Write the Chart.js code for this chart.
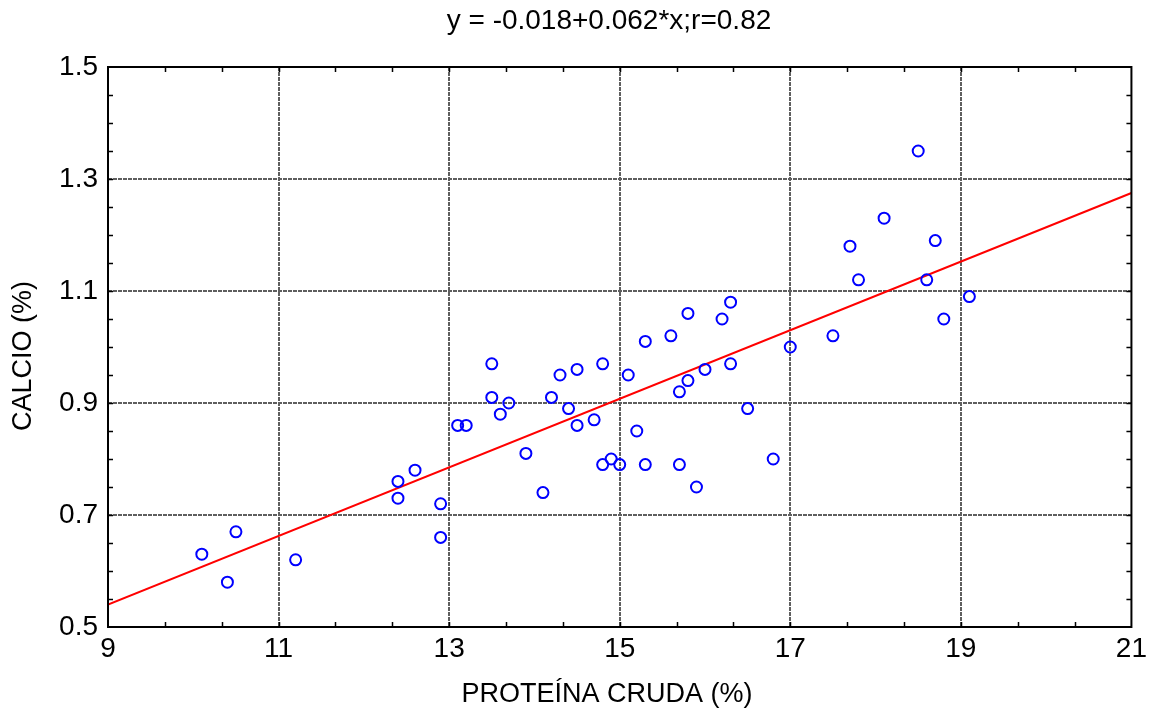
<!DOCTYPE html>
<html>
<head>
<meta charset="utf-8">
<script src="https://cdn.jsdelivr.net/npm/chart.js@4/dist/chart.umd.min.js"></script>
<style>
  html, body { margin: 0; padding: 0; background: #fff; }
</style>
</head>
<body>
<canvas id="chart" width="1152" height="715"></canvas>
<script>
// PROTEÍNA CRUDA (%) vs CALCIO (%)
const proteina = [10.1, 10.4, 10.5, 11.2, 12.4, 12.4, 12.6, 12.9, 12.9,
    13.1, 13.2, 13.5, 13.5, 13.6, 13.7, 13.9, 14.1,
    14.2, 14.3, 14.4, 14.5, 14.5, 14.7, 14.8, 14.8, 14.9, 15.0,
    15.1, 15.2, 15.3, 15.3, 15.6, 15.7, 15.7, 15.8, 15.8, 15.9,
    16.0, 16.2, 16.3, 16.3, 16.5, 16.8, 17.0,
    17.5, 17.7, 17.8, 18.1, 18.5, 18.6, 18.7, 18.8, 19.1];
const calcio = [0.63, 0.58, 0.67, 0.62, 0.76, 0.73, 0.78, 0.72, 0.66,
    0.86, 0.86, 0.97, 0.91, 0.88, 0.90, 0.81, 0.74,
    0.91, 0.95, 0.89, 0.96, 0.86, 0.87, 0.97, 0.79, 0.80, 0.79,
    0.95, 0.85, 1.01, 0.79, 1.02, 0.92, 0.79, 1.06, 0.94, 0.75,
    0.96, 1.05, 1.08, 0.97, 0.89, 0.80, 1.00,
    1.02, 1.18, 1.12, 1.23, 1.35, 1.12, 1.19, 1.05, 1.09];

// regression line ends
const fitX = [9, 21];
const fitY = [0.54, 1.275];

const xTicks = [9, 11, 13, 15, 17, 19, 21];
const yTicks = [0.5, 0.7, 0.9, 1.1, 1.3, 1.5];
const xMinorStep = 2 / 3;
const yMinorStep = 0.05;

const titleText = 'y = -0.018+0.062*x;r=0.82';
const xTitle = 'PROTEÍNA CRUDA (%)';
const yTitle = 'CALCIO (%)';

const FONT = 'Liberation Sans, Arial, sans-serif';

// frame round the plot + small inner ticks on all four sides
const frameTicks = {
    id: 'frameTicks',
    afterDatasetsDraw(chart) {
        const ctx = chart.ctx;
        const a = chart.chartArea;
        const xs = chart.scales.x;
        const ys = chart.scales.y;
        ctx.save();
        ctx.strokeStyle = '#000';
        ctx.lineWidth = 1.5;
        ctx.beginPath();
        const nx = Math.round((xs.max - xs.min) / xMinorStep);
        for (let i = 1; i < nx; i++) {
            const px = Math.round(xs.getPixelForValue(xs.min + i * xMinorStep)) + 0.5;
            ctx.moveTo(px, a.bottom); ctx.lineTo(px, a.bottom - 5);
            ctx.moveTo(px, a.top); ctx.lineTo(px, a.top + 5);
        }
        const ny = Math.round((ys.max - ys.min) / yMinorStep);
        for (let i = 1; i < ny; i++) {
            const py = Math.round(ys.getPixelForValue(ys.min + i * yMinorStep)) + 0.5;
            ctx.moveTo(a.left, py); ctx.lineTo(a.left + 5, py);
            ctx.moveTo(a.right, py); ctx.lineTo(a.right - 5, py);
        }
        ctx.stroke();
        ctx.lineWidth = 2;
        ctx.strokeRect(a.left, a.top, a.right - a.left, a.bottom - a.top);
        ctx.restore();
    }
};

// title and axis titles, placed as in the original
const labels = {
    id: 'labels',
    afterDraw(chart) {
        const ctx = chart.ctx;
        ctx.save();
        ctx.fillStyle = '#000';
        ctx.textAlign = 'center';
        ctx.textBaseline = 'middle';
        ctx.font = '28px ' + FONT;
        ctx.fillText(titleText, 609, 21);
        ctx.font = '27px ' + FONT;
        ctx.fillText(xTitle, 607, 695);
        ctx.translate(24, 356);
        ctx.rotate(-Math.PI / 2);
        ctx.fillText(yTitle, 0, 0);
        ctx.restore();
    }
};

function gridColor(c) {
    const s = c.scale;
    if (c.tick && (c.tick.value === s.min || c.tick.value === s.max)) return 'transparent';
    return '#5e5e5e';
}

new Chart(document.getElementById('chart'), {
    type: 'scatter',
    data: {
        datasets: [{
            label: 'datos',
            data: proteina.map((v, i) => ({ x: v, y: calcio[i] })),
            pointStyle: 'circle',
            pointRadius: 5.5,
            pointBorderWidth: 2,
            borderColor: '#0000ff',
            backgroundColor: 'transparent',
            order: 0
        }, {
            type: 'line',
            label: 'ajuste',
            data: fitX.map((v, i) => ({ x: v, y: fitY[i] })),
            borderColor: '#ff0000',
            borderWidth: 2,
            pointRadius: 0,
            fill: false,
            order: 1
        }]
    },
    options: {
        responsive: false,
        animation: false,
        layout: { padding: { left: 0, right: 20, top: 67, bottom: 0 } },
        plugins: {
            legend: { display: false },
            tooltip: { enabled: false },
            title: { display: false }
        },
        scales: {
            x: {
                type: 'linear',
                min: 9,
                max: 21,
                afterBuildTicks: s => { s.ticks = xTicks.map(v => ({ value: v })); },
                afterFit: s => { s.height = 88; },
                ticks: {
                    color: '#000',
                    font: { family: FONT, size: 28 },
                    padding: 5,
                    maxRotation: 0
                },
                grid: { color: gridColor, lineWidth: 2, drawTicks: false },
                border: { display: false, dash: [4, 1] }
            },
            y: {
                type: 'linear',
                min: 0.5,
                max: 1.5,
                afterBuildTicks: s => { s.ticks = yTicks.map(v => ({ value: v })); },
                afterFit: s => { s.width = 108; },
                ticks: {
                    color: '#000',
                    font: { family: FONT, size: 28 },
                    padding: 10,
                    callback: v => v.toFixed(1)
                },
                grid: { color: gridColor, lineWidth: 2, drawTicks: false },
                border: { display: false, dash: [4, 1] }
            }
        }
    },
    plugins: [frameTicks, labels]
});
</script>
</body>
</html>
